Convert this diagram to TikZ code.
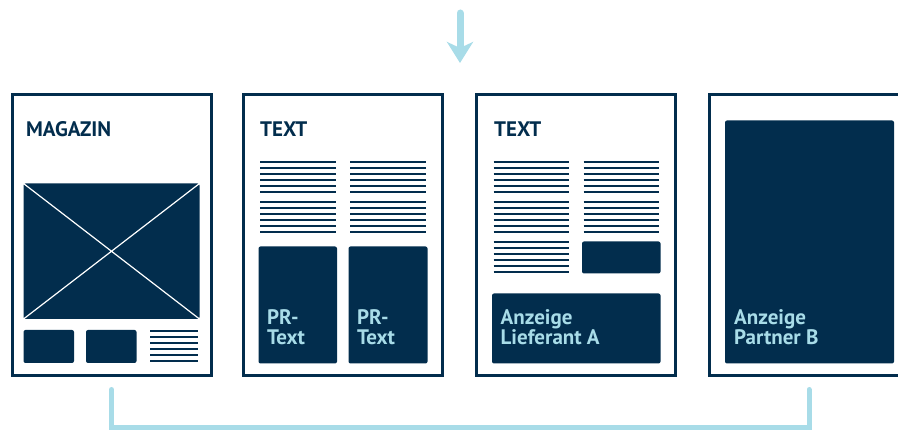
\documentclass[tikz,border=0pt]{standalone}
\usepackage{fontspec}
\setmainfont{PT Sans}
\usetikzlibrary{arrows.meta,positioning}

\definecolor{navy}{RGB}{2,45,77}
\definecolor{sky}{RGB}{168,220,232}

% six text rules: x from, x to, first y
\newcommand{\textlines}[3]{%
  \foreach \i in {0,...,5}
    \draw[textline] (#1,#3+6*\i) -- (#2,#3+6*\i);}

\tikzset{
  page/.style={draw=navy, line width=3pt, minimum width=199pt,
    minimum height=281pt, inner sep=0pt},
  block/.style={fill=navy, rounded corners=2pt},
  textline/.style={navy, line width=2pt},
  title/.style={anchor=base west, inner sep=0pt, text=navy,
    font=\bfseries\fontsize{21}{20}\selectfont},
  adlabel/.style={anchor=base west, inner sep=0pt, align=left, text=sky,
    font=\bfseries\fontsize{21}{20}\selectfont},
  flow/.style={sky, line width=5pt}
}

\begin{document}
\begin{tikzpicture}[x=1pt,y=-1pt]
\useasboundingbox (0,0) rectangle (898,430);
\clip (0,0) rectangle (898,430);

% pages
\node[page] (p1) at (111.5,235.5) {};
\node[page] (p2) at (343,235.5) {};
\node[page] (p3) at (576,235.5) {};
\node[page] (p4) at (809,235.5) {};

% page 1
\node[title] (mag) at (26,137) {MAGAZIN};
\path[block] (23.5,183.5) rectangle (199.5,319);
\coordinate (img nw) at (23.5,183.5);
\coordinate (img se) at (199.5,319);
\coordinate (img sw) at (23.5,319);
\coordinate (img ne) at (199.5,183.5);
\draw[white, line width=1.2pt] (img nw) -- (img se)
      (img sw) -- (img ne);
\path[block] (23.5,330) rectangle (74,363);
\path[block] (86,330) rectangle (136.5,363);
\textlines{150}{198}{331.5}

% page 2
\node[title] (txt1) at (260,137) {TEXT};
\textlines{260}{336}{162}
\textlines{260}{336}{202.5}
\textlines{350}{426}{162}
\textlines{350}{426}{202.5}
\path[block] (258.5,246.5) rectangle (337,363.5);
\path[block] (348.5,246.5) rectangle (427.5,363.5);
\node[adlabel] (pr1) at (267,345) {PR-\\Text};
\node[adlabel] (pr2) at (357,345) {PR-\\Text};

% page 3
\node[title] (txt2) at (494,137) {TEXT};
\textlines{493.5}{569}{162}
\textlines{493.5}{569}{202.5}
\textlines{493.5}{569}{242.5}
\textlines{583.5}{659}{162}
\textlines{583.5}{659}{202.5}
\path[block] (582,241.5) rectangle (660.5,273.5);
\path[block] (492,293.5) rectangle (660.5,363.5);
\node[adlabel] (adA) at (500.5,345) {Anzeige\\Lieferant A};

% page 4
\path[block] (725,120.5) rectangle (894,363.5);
\node[adlabel] (adB) at (734,345) {Anzeige\\Partner B};

% flow
\coordinate (in top) at (460,13);
\coordinate (in end) at (460,63);
\draw[flow, line width=7pt, line cap=round,
      -{Stealth[length=21pt,width=26pt,inset=6pt]}] (in top) -- (in end);
\draw[flow, line cap=round] ([yshift=-12pt]p1.south) -- ([yshift=-50pt]p1.south)
      -| ([yshift=-12pt]p4.south);
\end{tikzpicture}
\end{document}
